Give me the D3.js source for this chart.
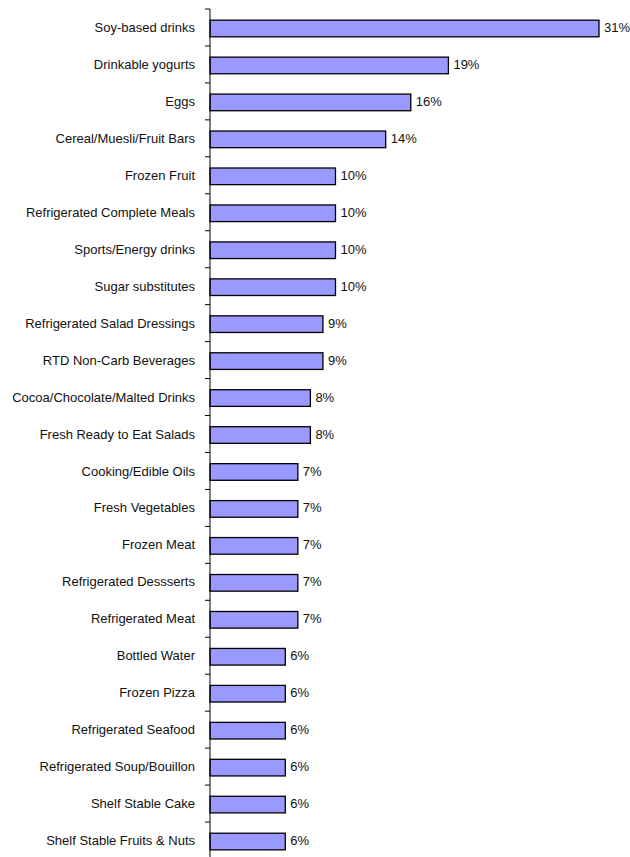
<!DOCTYPE html>
<html>
<head>
<meta charset="utf-8">
<script src="https://cdn.jsdelivr.net/npm/d3@7"></script>
<style>
  html, body { margin: 0; padding: 0; background: #fff; }
  svg { display: block; }
  text { font-family: "Liberation Sans", Arial, sans-serif; font-size: 13px; fill: #111; }
</style>
</head>
<body>
<svg id="chart" width="630" height="857"></svg>
<script>
// Product categories, top to bottom
const categories = [
  "Soy-based drinks",
  "Drinkable yogurts",
  "Eggs",
  "Cereal/Muesli/Fruit Bars",
  "Frozen Fruit",
  "Refrigerated Complete Meals",
  "Sports/Energy drinks",
  "Sugar substitutes",
  "Refrigerated Salad Dressings",
  "RTD Non-Carb Beverages",
  "Cocoa/Chocolate/Malted Drinks",
  "Fresh Ready to Eat Salads",
  "Cooking/Edible Oils",
  "Fresh Vegetables",
  "Frozen Meat",
  "Refrigerated Dessserts",
  "Refrigerated Meat",
  "Bottled Water",
  "Frozen Pizza",
  "Refrigerated Seafood",
  "Refrigerated Soup/Bouillon",
  "Shelf Stable Cake",
  "Shelf Stable Fruits & Nuts"
];

// Share (percent) for each category
const values = [31, 19, 16, 14, 10, 10, 10, 10, 9, 9, 8, 8, 7, 7, 7, 7, 7, 6, 6, 6, 6, 6, 6];

const svg = d3.select("#chart");
const axisX = 210;
const plotTop = 9;
const plotBottom = 859;

const x = d3.scaleLinear().domain([0, 31]).range([axisX, 599]);
const y = d3.scaleBand()
  .domain(categories)
  .range([plotTop, plotBottom])
  .paddingInner(0.55)
  .paddingOuter(0.275)
  .align(0.55);

// Bars
svg.append("g")
  .selectAll("rect")
  .data(categories)
  .join("rect")
  .attr("x", x(0))
  .attr("y", (d) => y(d))
  .attr("width", (d, i) => x(values[i]) - x(0))
  .attr("height", y.bandwidth())
  .attr("fill", "#9999FF")
  .attr("stroke", "#000")
  .attr("stroke-width", 1.3);

// Category axis with ticks between the bands
const boundaries = d3.range(categories.length + 1)
  .map((k) => plotTop + k * (plotBottom - plotTop) / categories.length);

const axisG = svg.append("g");
axisG.append("line")
  .attr("x1", axisX).attr("x2", axisX)
  .attr("y1", plotTop).attr("y2", plotBottom)
  .attr("stroke", "#000").attr("stroke-width", 1);
axisG.selectAll("line.tick")
  .data(boundaries)
  .join("line")
  .attr("class", "tick")
  .attr("x1", axisX - 5).attr("x2", axisX)
  .attr("y1", (d) => d).attr("y2", (d) => d)
  .attr("stroke", "#000").attr("stroke-width", 1);

// Category labels
svg.append("g")
  .selectAll("text")
  .data(categories)
  .join("text")
  .attr("x", axisX - 15)
  .attr("y", (d) => y(d) + y.bandwidth() / 2 - 1)
  .attr("dy", "0.35em")
  .attr("text-anchor", "end")
  .text((d) => d);

// Value labels
svg.append("g")
  .selectAll("text")
  .data(categories)
  .join("text")
  .attr("x", (d, i) => x(values[i]) + 5)
  .attr("y", (d) => y(d) + y.bandwidth() / 2 - 1)
  .attr("dy", "0.35em")
  .text((d, i) => values[i] + "%");
</script>
</body>
</html>
